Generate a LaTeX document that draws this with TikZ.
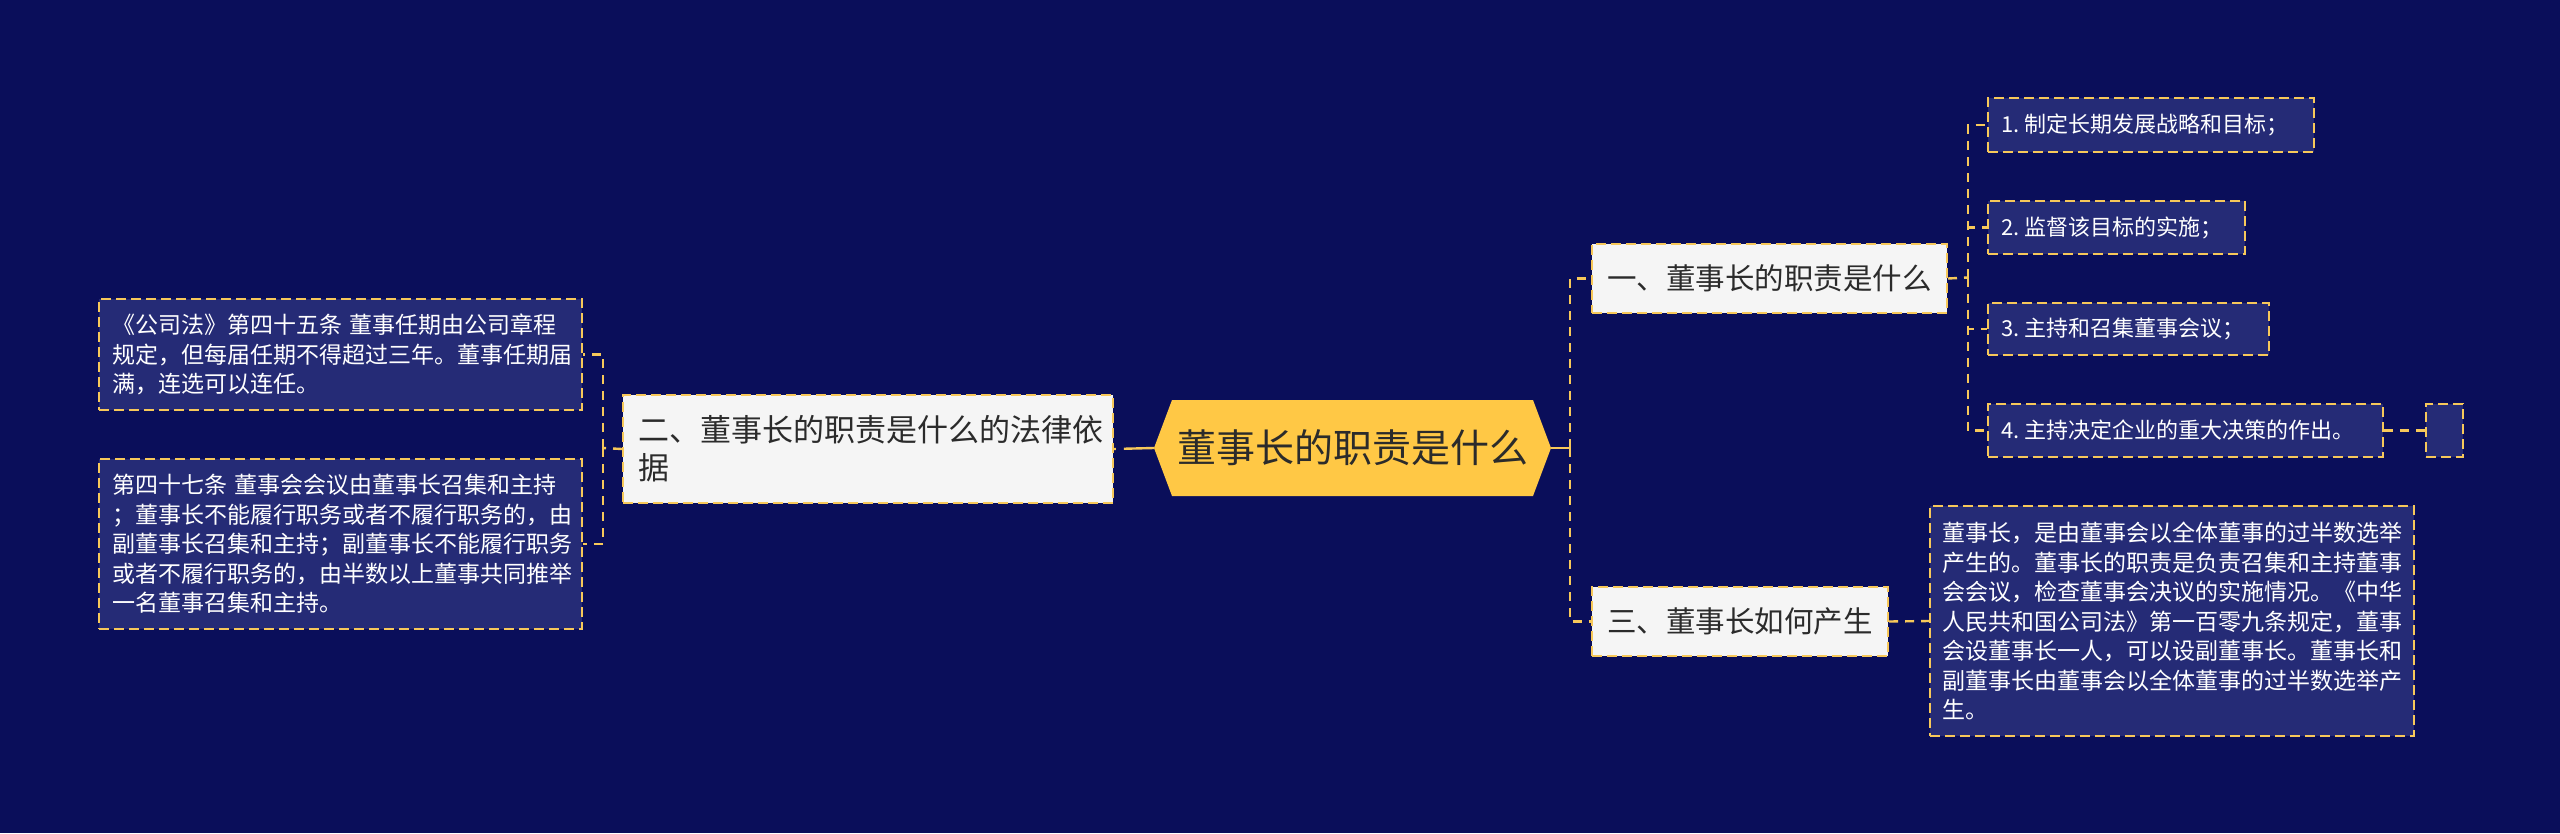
\documentclass[tikz,border=0pt]{standalone}
\usepackage{fontspec}
\setmainfont{Noto Sans CJK SC}
\usetikzlibrary{calc}
\definecolor{bg}{HTML}{0A0E5A}
\definecolor{leaffill}{HTML}{252B76}
\definecolor{ylw}{HTML}{F7C85A}
\definecolor{hexfill}{HTML}{FFC845}
\definecolor{nodefill}{HTML}{F5F5F5}
\definecolor{darktext}{HTML}{2B2B2B}
\begin{document}
\begin{tikzpicture}[x=1pt,y=-1pt,
  dbox/.style={draw=ylw, line width=2pt, dash pattern=on 10pt off 5pt, anchor=north west, inner ysep=0pt},
  leafbox/.style={dbox, fill=leaffill, text=white, align=left, inner xsep=13pt,
    font=\fontsize{23}{29.5}\selectfont},
  itembox/.style={dbox, fill=leaffill, text=white, align=left, inner xsep=0pt,
    font=\fontsize{22}{26}\selectfont},
  topicbox/.style={dbox, fill=nodefill, text=darktext, align=left, inner xsep=0pt},
  conn/.style={draw=ylw, line width=2.4pt, dash pattern=on 9pt off 7pt},
  solidconn/.style={draw=ylw, line width=2.4pt}
]
\useasboundingbox (0,0) rectangle (2560,833);
\fill[bg] (0,0) rectangle (2560,833);

% central hexagon
\fill[hexfill] (1154,448) -- (1172,400) -- (1533,400) -- (1551,448) -- (1533,496) -- (1172,496) -- cycle;
\node[minimum width=397pt, minimum height=96pt, inner sep=0pt, text=darktext,
  font=\fontsize{39}{44}\selectfont] (hex) at (1352.5,448) {董事长的职责是什么};

% level 1
\node[topicbox, minimum width=490pt, minimum height=108pt, text width=460pt,
  font=\fontsize{31}{38}\selectfont] (n2) at (622,394)
  {二、董事长的职责是什么的法律依\\据};
\node[topicbox, minimum width=355pt, minimum height=69pt, text width=325pt,
  font=\fontsize{29.5}{34}\selectfont] (n1) at (1591,243) {一、董事长的职责是什么};
\node[topicbox, minimum width=296pt, minimum height=69pt, text width=266pt,
  font=\fontsize{29.5}{34}\selectfont] (n3) at (1591,586) {三、董事长如何产生};

% left leaves
\node[leafbox, minimum width=483pt, minimum height=111pt, text width=457pt] (l1) at (98,298)
  {《公司法》第四十五条 董事任期由公司章程\\规定，但每届任期不得超过三年。董事任期届\\满，连选可以连任。};
\node[leafbox, minimum width=483pt, minimum height=170pt, text width=457pt] (l2) at (98,458)
  {第四十七条 董事会会议由董事长召集和主持\\；董事长不能履行职务或者不履行职务的，由\\副董事长召集和主持；副董事长不能履行职务\\或者不履行职务的，由半数以上董事共同推举\\一名董事召集和主持。};

% right items
\node[itembox, minimum width=326pt, minimum height=54pt, text width=300pt] (i1) at (1987,97) {1.\hspace{0.25em}制定长期发展战略和目标；};
\node[itembox, minimum width=257pt, minimum height=53pt, text width=231pt] (i2) at (1987,200) {2.\hspace{0.25em}监督该目标的实施；};
\node[itembox, minimum width=281pt, minimum height=52pt, text width=255pt] (i3) at (1987,302) {3.\hspace{0.25em}主持和召集董事会议；};
\node[itembox, minimum width=395pt, minimum height=53pt, text width=369pt] (i4) at (1987,403) {4.\hspace{0.25em}主持决定企业的重大决策的作出。};
\node[dbox, fill=leaffill, minimum width=37pt, minimum height=53pt, inner sep=0pt] (e) at (2425,403) {};

\node[leafbox, minimum width=484pt, minimum height=230pt, text width=460pt, inner xsep=12pt] (l3) at (1929,505)
  {董事长，是由董事会以全体董事的过半数选举\\产生的。董事长的职责是负责召集和主持董事\\会会议，检查董事会决议的实施情况。《中华\\人民共和国公司法》第一百零九条规定，董事\\会设董事长一人，可以设副董事长。董事长和\\副董事长由董事会以全体董事的过半数选举产\\生。};

% junction coordinates
\coordinate (lj) at (603,448);
\coordinate (rj) at (1570,448);
\coordinate (sj) at (1968,277.5);

% connectors
\draw[conn, dash pattern=on 30pt off 8pt] (hex.west) -- (n2.east);
\draw[solidconn] (hex.east) -- (rj);
\draw[conn] (rj) |- (n1.west);
\draw[conn] (rj) |- (n3.west);
\draw[conn] (n2.west) -- (lj);
\draw[conn] (lj) |- (l1.east);
\draw[conn] (lj) |- (l2.east);
\draw[conn] (n1.east) -- (sj);
\draw[conn] (sj) |- (i1.west);
\draw[conn] (sj) |- (i2.west);
\draw[conn] (sj) |- (i3.west);
\draw[conn] (sj) |- (i4.west);
\draw[conn] (i4.east) -- (e.west);
\draw[conn] (n3.east) -- (l3.west);
\end{tikzpicture}
\end{document}
